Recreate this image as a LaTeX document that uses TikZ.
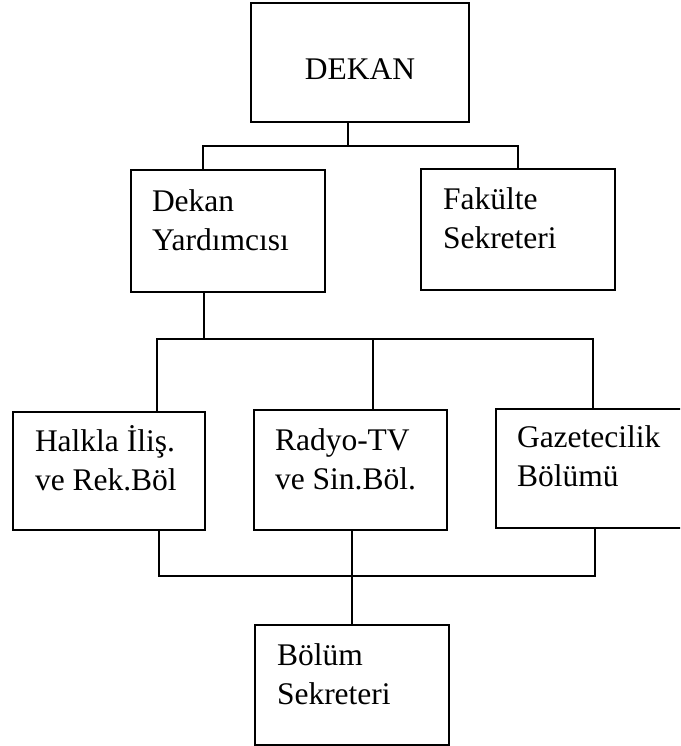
\documentclass[tikz,border=0pt]{standalone}
\usepackage{fontspec}
\setmainfont{Liberation Serif}

\begin{document}
\begin{tikzpicture}[x=1pt, y=-1pt, line width=1.5pt,
    every node/.style={font=\fontsize{31.5}{39}\selectfont},
    box/.style={draw, minimum width=194pt, minimum height=120pt, inner sep=0pt},
    txt/.style={anchor=north west, align=left, inner sep=0pt}]
            \clip (0,0) rectangle (680,746);

            \node (dekan) at (360,62.5) [box, minimum width=218pt, minimum height=119pt, text height=35pt, text depth=0pt] {DEKAN};

            \node (dekany) at (228,231) [box, minimum height=122pt] {};
            \node (fakulte) at (518,229.5) [box, minimum height=121pt] {};
            \node (dekany_t) at ([shift={(21,19.5)}]dekany.north west) [txt] {Dekan\\Yardımcısı};
            \node (fakulte_t) at ([shift={(22,18.5)}]fakulte.north west) [txt] {Fakülte\\Sekreteri};

            \node (halkla) at (109,471) [box, minimum width=192pt, minimum height=118pt] {};
            \node (radyo) at (350.5,470) [box, minimum width=193pt] {};
            \node (gazete) at (593,468.5) [box, minimum height=119pt] {};
            \node (halkla_t) at ([shift={(22,14)}]halkla.north west) [txt] {Halkla İliş.\\ve Rek.Böl};
            \node (radyo_t) at ([shift={(21,18.5)}]radyo.north west) [txt] {Radyo-TV\\ve Sin.Böl.};
            \node (gazete_t) at ([shift={(21,16.5)}]gazete.north west) [txt] {Gazetecilik\\Bölümü};

            \node (bolum) at (352,685) [box] {};
            \node (bolum_t) at ([shift={(22,18.5)}]bolum.north west) [txt] {Bölüm\\Sekreteri};

            \coordinate (j_a) at (348,146);
            \coordinate (b_al) at (203,146);
            \coordinate (b_ar) at (518,146);
            \draw (dekan.south -| j_a) -- (j_a);
            \draw (dekany.north -| b_al) -- (b_al) -- (b_ar) -- (fakulte.north -| b_ar);

            \coordinate (j_b) at (204,339);
            \coordinate (b_bl) at (157,339);
            \coordinate (b_bm) at (373,339);
            \coordinate (b_br) at (593,339);
            \draw (dekany.south -| j_b) -- (j_b);
            \draw (halkla.north -| b_bl) -- (b_bl) -- (b_br) -- (gazete.north -| b_br);
            \draw (b_bm) -- (radyo.north -| b_bm);

            \coordinate (b_cl) at (159,576);
            \coordinate (b_cm) at (352,576);
            \coordinate (b_cr) at (595,576);
            \draw (halkla.south -| b_cl) -- (b_cl) -- (b_cr) -- (gazete.south -| b_cr);
            \draw (radyo.south -| b_cm) -- (bolum.north -| b_cm);
        \end{tikzpicture}
\end{document}
